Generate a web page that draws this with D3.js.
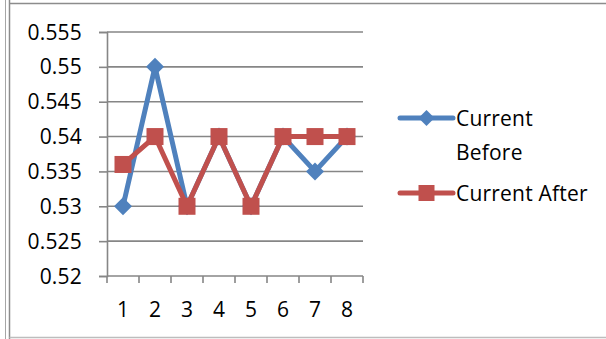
<!DOCTYPE html>
<html>
<head>
<meta charset="utf-8">
<script src="https://cdn.jsdelivr.net/npm/d3@7/dist/d3.min.js"></script>
<style>
  html, body { margin: 0; padding: 0; background: #fff; }
  svg { display: block; }
  text { font-family: "Open Sans", "Noto Sans", sans-serif; fill: #000; }
</style>
</head>
<body>
<script>
// Sample index and the two current readings
const categories = ["1", "2", "3", "4", "5", "6", "7", "8"];
const currentBefore = [0.53, 0.55, 0.53, 0.54, 0.53, 0.54, 0.535, 0.54];
const currentAfter = [0.536, 0.54, 0.53, 0.54, 0.53, 0.54, 0.54, 0.54];
const yTicks = [0.52, 0.525, 0.53, 0.535, 0.54, 0.545, 0.55, 0.555];
const seriesNames = ["Current Before", "Current After"];

const W = 606, H = 339;
const plot = { left: 107, right: 363, top: 32, bottom: 276 };
const gridColor = "#868686";
const blue = "#4F81BD", red = "#C0504D";
const fontSize = 21, spacing = 0.2;

const svg = d3.select("body").append("svg")
  .attr("width", W).attr("height", H);

// Chart frame
svg.append("line").attr("x1", 5.5).attr("x2", 5.5).attr("y1", 0).attr("y2", H)
  .attr("stroke", "#a6a6a6").attr("stroke-width", 1);
svg.append("line").attr("x1", 9.5).attr("x2", 9.5).attr("y1", 0).attr("y2", H)
  .attr("stroke", "#8c8c8c").attr("stroke-width", 1.5);
svg.append("line").attr("x1", 9.5).attr("x2", W).attr("y1", 3.5).attr("y2", 3.5)
  .attr("stroke", "#8c8c8c").attr("stroke-width", 1.5);
svg.append("line").attr("x1", 9.5).attr("x2", W).attr("y1", 337.5).attr("y2", 337.5)
  .attr("stroke", "#bdbdbd").attr("stroke-width", 1.5);

const x = d3.scaleBand().domain(categories).range([plot.left, plot.right]);
const y = d3.scaleLinear().domain([0.52, 0.555]).range([plot.bottom, plot.top]);

// Horizontal gridlines
svg.append("g").selectAll("line").data(yTicks.filter(t => t > 0.52)).join("line")
  .attr("x1", plot.left).attr("x2", plot.right)
  .attr("y1", d => y(d)).attr("y2", d => y(d))
  .attr("stroke", gridColor).attr("stroke-width", 1.6);

// Y axis
const yAxis = svg.append("g").attr("transform", `translate(${plot.left},0)`)
  .call(d3.axisLeft(y).tickValues(yTicks).tickFormat(d => String(+d.toFixed(3)))
    .tickSize(8).tickPadding(17));
yAxis.select(".domain").attr("stroke", gridColor).attr("stroke-width", 1.6);
yAxis.selectAll(".tick line").attr("stroke", gridColor).attr("stroke-width", 1.6);
yAxis.selectAll("text").attr("font-size", fontSize).attr("font-family", "Open Sans")
  .attr("letter-spacing", spacing).attr("dy", "0.34em").attr("fill", "#000");

// X axis with ticks on band boundaries
const xAxisG = svg.append("g").attr("transform", `translate(0,${plot.bottom})`);
xAxisG.append("line").attr("x1", plot.left).attr("x2", plot.right)
  .attr("stroke", gridColor).attr("stroke-width", 1.6);
const bounds = categories.map(c => x(c)).concat([x(categories[categories.length - 1]) + x.bandwidth()]);
xAxisG.selectAll(".xt").data(bounds).join("line").attr("class", "xt")
  .attr("x1", d => d).attr("x2", d => d).attr("y1", 0).attr("y2", 7)
  .attr("stroke", gridColor).attr("stroke-width", 1.6);
xAxisG.selectAll(".xl").data(categories).join("text").attr("class", "xl")
  .attr("x", d => x(d) + x.bandwidth() / 2).attr("y", 41)
  .attr("text-anchor", "middle").attr("font-size", fontSize).text(d => d);

const cx = (d, i) => x(categories[i]) + x.bandwidth() / 2;
const line = d3.line().x(cx).y(d => y(d));

const diamond = (g, px, py, r) =>
  g.append("path").attr("d", `M${px},${py - r}L${px + r},${py}L${px},${py + r}L${px - r},${py}Z`)
    .attr("fill", blue);

// Current Before
svg.append("path").datum(currentBefore).attr("d", line)
  .attr("fill", "none").attr("stroke", blue).attr("stroke-width", 5)
  .attr("stroke-linejoin", "round");
const gB = svg.append("g");
currentBefore.forEach((d, i) => diamond(gB, cx(d, i), y(d), 9));

// Current After
svg.append("path").datum(currentAfter).attr("d", line)
  .attr("fill", "none").attr("stroke", red).attr("stroke-width", 5)
  .attr("stroke-linejoin", "round");
svg.append("g").selectAll("rect").data(currentAfter).join("rect")
  .attr("x", (d, i) => cx(d, i) - 8.5).attr("y", d => y(d) - 8.5)
  .attr("width", 17).attr("height", 17).attr("fill", red);

// Legend
const leg = svg.append("g");
leg.append("line").attr("x1", 400).attr("x2", 453).attr("y1", 118).attr("y2", 118)
  .attr("stroke", blue).attr("stroke-width", 5).attr("stroke-linecap", "round");
diamond(leg, 426.5, 118, 8);
leg.append("text").attr("x", 456).attr("y", 126).attr("font-size", fontSize)
  .attr("letter-spacing", spacing).text("Current");
leg.append("text").attr("x", 456).attr("y", 160).attr("font-size", fontSize)
  .attr("letter-spacing", spacing).text("Before");

leg.append("line").attr("x1", 400).attr("x2", 453).attr("y1", 193).attr("y2", 193)
  .attr("stroke", red).attr("stroke-width", 5).attr("stroke-linecap", "round");
leg.append("rect").attr("x", 418.5).attr("y", 185).attr("width", 16).attr("height", 16)
  .attr("fill", red);
leg.append("text").attr("x", 456).attr("y", 201).attr("font-size", fontSize)
  .attr("letter-spacing", spacing).text(seriesNames[1]);
</script>
</body>
</html>
